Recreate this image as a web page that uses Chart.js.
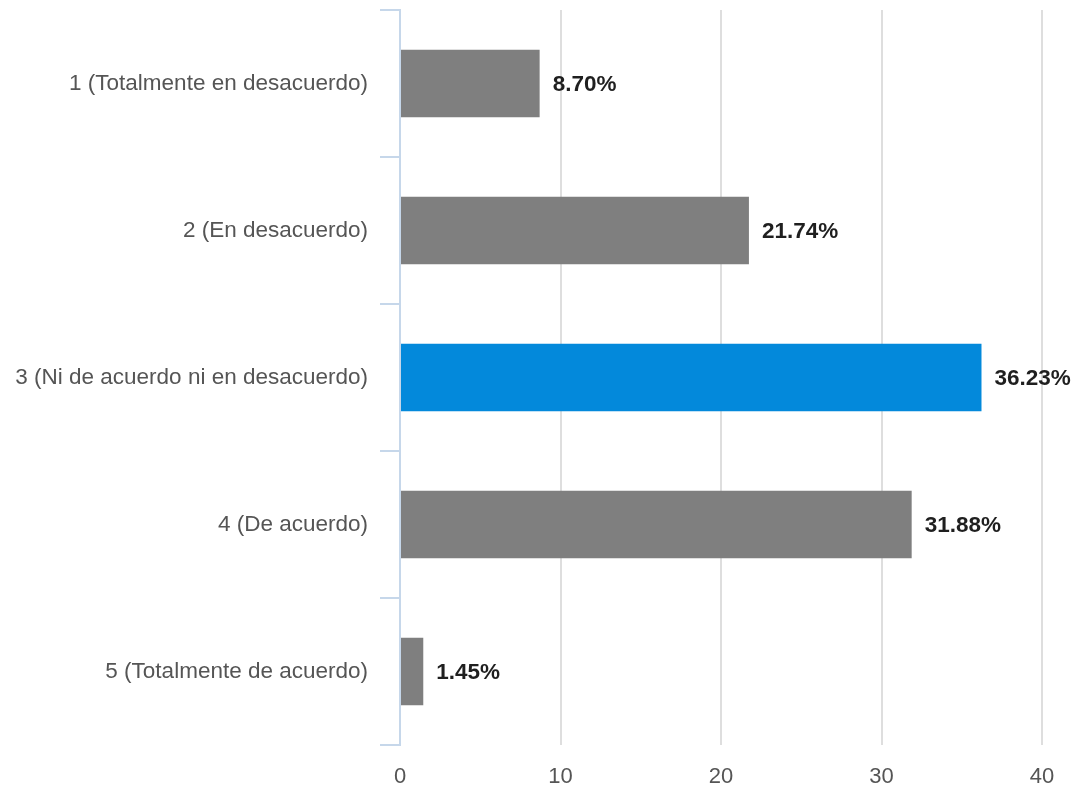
<!DOCTYPE html>
<html>
<head>
<meta charset="utf-8">
<script src="https://cdn.jsdelivr.net/npm/chart.js@4/dist/chart.umd.min.js"></script>
<style>
  html, body { margin: 0; padding: 0; background: #fff; }
  #wrap { width: 1078px; height: 791px; }
</style>
</head>
<body>
<div id="wrap"><canvas id="chart" width="1078" height="791"></canvas></div>
<script>
// survey answers (percent of respondents)
const categories = [
    "1 (Totalmente en desacuerdo)",
    "2 (En desacuerdo)",
    "3 (Ni de acuerdo ni en desacuerdo)",
    "4 (De acuerdo)",
    "5 (Totalmente de acuerdo)"
];
const percents = [8.70, 21.74, 36.23, 31.88, 1.45];
const xTicks = [0, 10, 20, 30, 40];
const highlightIndex = 2;

const COLORS = {
    bar: '#7f7f7f',
    highlight: '#0389db',
    axis: '#c6d7ea',
    grid: '#dedede',
    label: '#555555',
    value: '#1f1f1f'
};
const FONT = '"Liberation Sans", Arial, Helvetica, sans-serif';

// draws the "xx.xx%" text right of each bar
const valueLabels = {
    id: 'valueLabels',
    afterDatasetsDraw(chart) {
        const ctx = chart.ctx;
        const meta = chart.getDatasetMeta(0);
        ctx.save();
        ctx.font = 'bold 22.5px ' + FONT;
        ctx.fillStyle = COLORS.value;
        ctx.textAlign = 'left';
        ctx.textBaseline = 'middle';
        meta.data.forEach((bar, i) => {
            ctx.fillText(percents[i].toFixed(2) + '%', bar.x + 13, bar.y + 1);
        });
        ctx.restore();
    }
};

const ctx = document.getElementById('chart').getContext('2d');
new Chart(ctx, {
    type: 'bar',
    data: {
        labels: categories,
        datasets: [{
            data: percents,
            backgroundColor: percents.map((_, i) => i === highlightIndex ? COLORS.highlight : COLORS.bar),
            borderWidth: 0,
            categoryPercentage: 1,
            barPercentage: 0.46
        }]
    },
    options: {
        indexAxis: 'y',
        responsive: false,
        animation: false,
        layout: { padding: { top: 10, right: 36, left: 0, bottom: 0 } },
        plugins: {
            legend: { display: false },
            tooltip: { enabled: false }
        },
        scales: {
            x: {
                min: 0,
                max: 40,
                afterBuildTicks: (scale) => {
                    scale.ticks = xTicks.map(v => ({ value: v }));
                },
                afterFit: (scale) => { scale.height = 46; },
                border: { display: false },
                grid: { color: COLORS.grid, lineWidth: 2, drawTicks: false },
                ticks: {
                    color: COLORS.label,
                    padding: 19,
                    font: { family: FONT, size: 22 }
                }
            },
            y: {
                afterFit: (scale) => {
                    scale.width = 400;
                    // labels sit mid-band, so no extra room above/below is needed
                    scale.paddingTop = 0;
                    scale.paddingBottom = 0;
                },
                border: { display: true, color: COLORS.axis, width: 2 },
                grid: {
                    offset: true,
                    drawOnChartArea: false,
                    drawTicks: true,
                    tickLength: 20,
                    color: COLORS.axis,
                    lineWidth: 2
                },
                ticks: {
                    color: COLORS.label,
                    padding: 12,
                    font: { family: FONT, size: 22.5 }
                }
            }
        }
    },
    plugins: [valueLabels]
});
</script>
</body>
</html>
